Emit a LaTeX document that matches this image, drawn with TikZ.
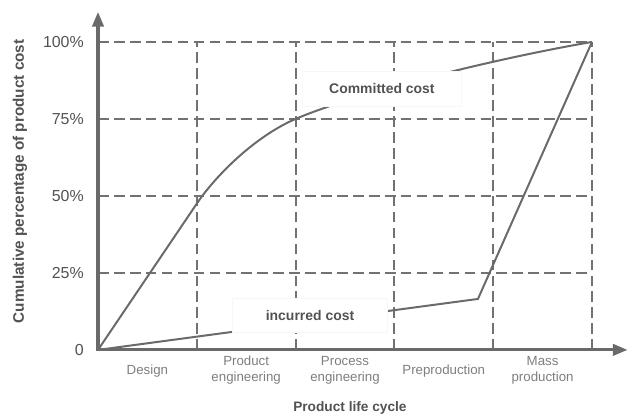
\documentclass[tikz,border=0pt]{standalone}
\usepackage{fontspec}
\setmainfont{Liberation Sans}
\usepackage{tikz}
\usetikzlibrary{arrows.meta}
\definecolor{axisgray}{HTML}{6A6A6A}
\definecolor{gridgray}{HTML}{727272}
\definecolor{textgray}{HTML}{525252}
\definecolor{phasegray}{HTML}{7E7E7E}

\begin{document}
\begin{tikzpicture}[x=2.614cm,y=2.037cm,
        axis/.style={line width=2.3pt,color=axisgray,-{Triangle[length=11pt,width=8.5pt]}},
        grid/.style={dash pattern=on 8pt off 4pt,line width=1.6pt,color=gridgray},
        curve/.style={line width=1.5pt,color=axisgray},
        tick/.style={inner sep=0pt,left=10.5pt,text=textgray,font=\fontsize{12}{14}\selectfont},
        phase/.style={align=center,text=phasegray,font=\fontsize{10}{12}\selectfont},
        costlabel/.style={fill=white,draw=black!3,inner sep=0pt,minimum height=26pt,text=textgray,font=\bfseries\fontsize{10.5}{12}\selectfont}]
        \useasboundingbox (-0.992,-0.844) rectangle (5.385,4.545);
        % grid
        \foreach \i in {1,...,5}
            \draw[grid] (\i,0)--(\i,4);
        \foreach \j in {1,...,4}
            \draw[grid] (0,\j)--(5,\j);
        % axes
        \draw[axis] (0,-0.01)--(0,4.39);
        \draw[axis] (-0.01,0)--(5.36,0);
        \node[tick] (t0) at (0,0) {0};
        \node[tick] (t25) at (0,1) {25\%};
        \node[tick] (t50) at (0,2) {50\%};
        \node[tick] (t75) at (0,3) {75\%};
        \node[tick] (t100) at (0,4) {100\%};
        % curves
        \draw[curve] (0,0)--(1,1.9) .. controls (1.2,2.28) and (1.6,2.78) .. (2,3)
            .. controls (2.6,3.33) and (4,3.78) .. (5,4);
        \draw[curve] (0,0)--(3.846,0.662)--(5,4);
        \node[costlabel,minimum width=120pt] (committed) at (2.874,3.39) {Committed cost};
        \node[costlabel,minimum width=117pt] (incurred) at (2.146,0.448) {incurred cost};
        % phases
        \node[phase] (design) at (0.5,-0.27) {Design};
        \node[phase] (prodeng) at (1.5,-0.26) {Product\\engineering};
        \node[phase] (proceng) at (2.5,-0.26) {Process\\engineering};
        \node[phase] (preprod) at (3.5,-0.27) {Preproduction};
        \node[phase] (massprod) at (4.5,-0.26) {Mass\\production};
        \node[text=textgray,font=\bfseries\fontsize{10.3}{12}\selectfont] (xlabel) at (2.55,-0.753) {Product life cycle};
        \node[rotate=90,text=textgray,font=\bfseries\fontsize{11.5}{13}\selectfont] (ylabel) at (-0.79,2.19) {Cumulative percentage of product cost};
\end{tikzpicture}
\end{document}
